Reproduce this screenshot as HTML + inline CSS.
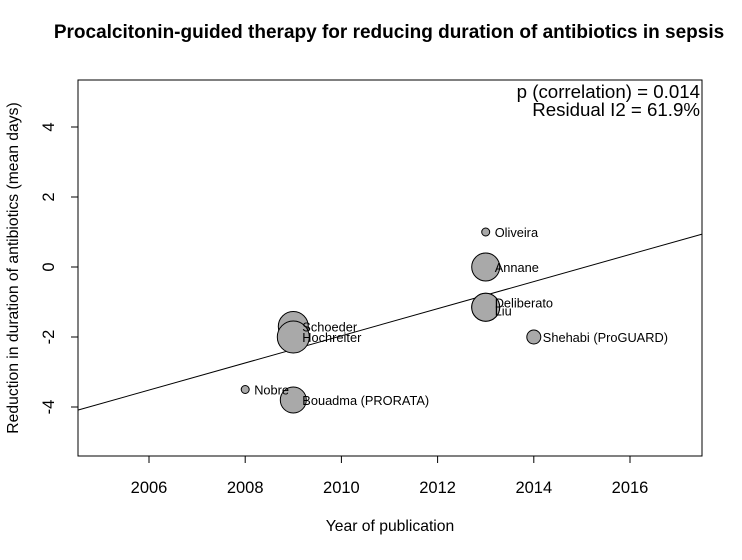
<!DOCTYPE html>
<html><head><meta charset="utf-8"><style>
body{margin:0;background:#fff}
text{font-family:"Liberation Sans",Arial,sans-serif}
</style></head><body>
<svg id="chart" width="742" height="555" xmlns="http://www.w3.org/2000/svg">
<text x="389" y="38" text-anchor="middle" font-size="19" font-weight="bold">Procalcitonin-guided therapy for reducing duration of antibiotics in sepsis</text>
<rect x="78" y="80" width="624" height="376" fill="none" stroke="#000"/>
<g id="xaxis"></g>
<g id="yaxis"></g>
<g id="marks"></g>
<text x="390" y="531" text-anchor="middle" font-size="15.7">Year of publication</text>
<text transform="translate(18,268) rotate(-90)" text-anchor="middle" font-size="15.7">Reduction in duration of antibiotics (mean days)</text>
<text x="700" y="98" text-anchor="end" font-size="18.7">p (correlation) = 0.014</text>
<text x="700" y="116" text-anchor="end" font-size="18.7">Residual I2 = 61.9%</text>
</svg>
<script>
const studies=["Oliveira","Annane","Deliberato","Liu","Shehabi (ProGUARD)","Schoeder","Hochreiter","Nobre","Bouadma (PRORATA)"];
const years=[2013,2013,2013,2013,2014,2009,2009,2008,2009];
const effects=[1.0,0.0,-1.15,-1.15,-2.0,-1.7,-2.0,-3.5,-3.8];
const radii=[4,14,14,14,7,15,16,4,13];
const labelDy=[0,0,-5,3,0,0,0,0,0];
const xTicks=[2006,2008,2010,2012,2014,2016];
const yTicks=[-4,-2,0,2,4];
const lineYears=[2004.52,2017.5];
const lineVals=[-4.09,0.94];
const NS="http://www.w3.org/2000/svg";
const sx=y=>149+(y-2006)*48.1;
const sy=v=>267-v*35;
function mk(t,a,p){const e=document.createElementNS(NS,t);for(const k in a)e.setAttribute(k,a[k]);p.appendChild(e);return e;}
const xa=document.getElementById('xaxis'),ya=document.getElementById('yaxis'),mg=document.getElementById('marks');
mk('line',{x1:sx(2006),x2:sx(2016),y1:456,y2:456,stroke:'#000'},xa);
xTicks.forEach(t=>{const l=mk('line',{x1:sx(t),x2:sx(t),y1:456,y2:463,stroke:'#000'},xa);


const tx=mk('text',{x:sx(t),y:493,'text-anchor':'middle','font-size':16.5},xa);tx.textContent=t;

});
mk('line',{x1:78,x2:78,y1:sy(-4),y2:sy(4),stroke:'#000'},ya);
yTicks.forEach(t=>{const l=mk('line',{x1:71,x2:78,y1:sy(t),y2:sy(t),stroke:'#000'},ya);


const tx=mk('text',{x:0,y:0,'text-anchor':'middle','font-size':16.5,transform:`translate(54,${sy(t)}) rotate(-90)`},ya);tx.textContent=t;

});
const rl=mk('line',{x1:sx(lineYears[0]),y1:sy(lineVals[0]),x2:sx(lineYears[1]),y2:sy(lineVals[1]),stroke:'#000'},mg);


studies.forEach((s,i)=>{const c=mk('circle',{cx:sx(years[i]),cy:sy(effects[i]),r:radii[i],fill:'#a9a9a9',stroke:'#000'},mg);

});
studies.forEach((s,i)=>{const t=mk('text',{x:sx(years[i])+9,y:sy(effects[i])+5+labelDy[i],'font-size':12.8},mg);t.textContent=s;

});
</script>
</body></html>
